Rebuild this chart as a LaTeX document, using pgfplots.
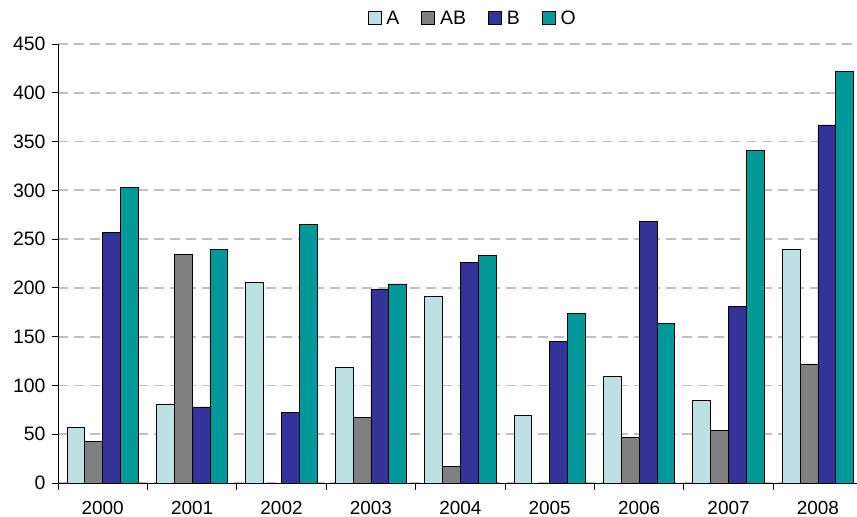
\documentclass[border=0pt]{standalone}
\usepackage{pgfplots}
\pgfplotsset{compat=1.18}
\usepackage{fontspec}
\setmainfont{Liberation Sans}
\definecolor{cA}{HTML}{BCE0E3}
\definecolor{cAB}{HTML}{808080}
\definecolor{cB}{HTML}{333399}
\definecolor{cO}{HTML}{009999}
\definecolor{gridc}{HTML}{C0C0C0}
\begin{document}
\begin{tikzpicture}
\begin{axis}[
  at={(0,0)}, anchor=south west,
  scale only axis, width=799bp, height=439bp,
  ybar=0pt, bar width=0.2,
  xmin=-0.5, xmax=8.437,
  ymin=0, ymax=450,
  ytick={0,50,...,450},
  xtick={0,...,8},
  xticklabels={2000,2001,2002,2003,2004,2005,2006,2007,2008},
  minor xtick={-0.5,0.5,...,7.5},
  tick align=outside, tick pos=left,
  major tick length=6bp, minor tick length=7bp,
  major x tick style={draw=none},
  minor x tick style={black, line width=0.8bp},
  major y tick style={black, line width=0.8bp},
  axis x line*=bottom, axis y line*=left,
  axis line style={-, black, line width=0.9bp},
  ymajorgrids,
  major grid style={gridc, dash pattern=on 10bp off 6bp, line width=1.7bp},
  ticklabel style={font=\fontsize{19}{21}\selectfont},
  yticklabel style={/pgf/number format/assume math mode=true, xshift=-3bp, font=\fontsize{19.5}{21}\selectfont},
  xticklabel style={yshift=-9bp},
  legend style={at={(0.519,1)}, anchor=south, yshift=16bp, draw=none,
    legend columns=4, font=\fontsize{19.5}{21}\selectfont, inner sep=0pt,
    /tikz/every even column/.append style={column sep=20bp},
    /tikz/every odd column/.append style={column sep=3bp}},
  legend image code/.code={\draw[#1, line width=0.8bp] (0bp,-6.5bp) rectangle (13bp,6.5bp);},
  clip=true,
]
\addplot[fill=cA, draw=black, line width=0.8bp] coordinates {(0,57) (1,81) (2,206) (3,118) (4,191) (5,69) (6,109) (7,85) (8,239)};
\addplot[fill=cAB, draw=black, line width=0.8bp] coordinates {(0,43) (1,234) (3,67) (4,17) (6,47) (7,54) (8,122)};
\addplot[fill=cB, draw=black, line width=0.8bp] coordinates {(0,257) (1,78) (2,72) (3,198) (4,226) (5,145) (6,268) (7,181) (8,367)};
\addplot[fill=cO, draw=black, line width=0.8bp] coordinates {(0,303) (1,239) (2,265) (3,204) (4,233) (5,174) (6,164) (7,341) (8,422)};
\legend{A,AB,B,O}
\end{axis}
\pgfresetboundingbox
\path[use as bounding box] (-58bp,-34bp) rectangle (799bp,483bp);
\end{tikzpicture}
\end{document}
